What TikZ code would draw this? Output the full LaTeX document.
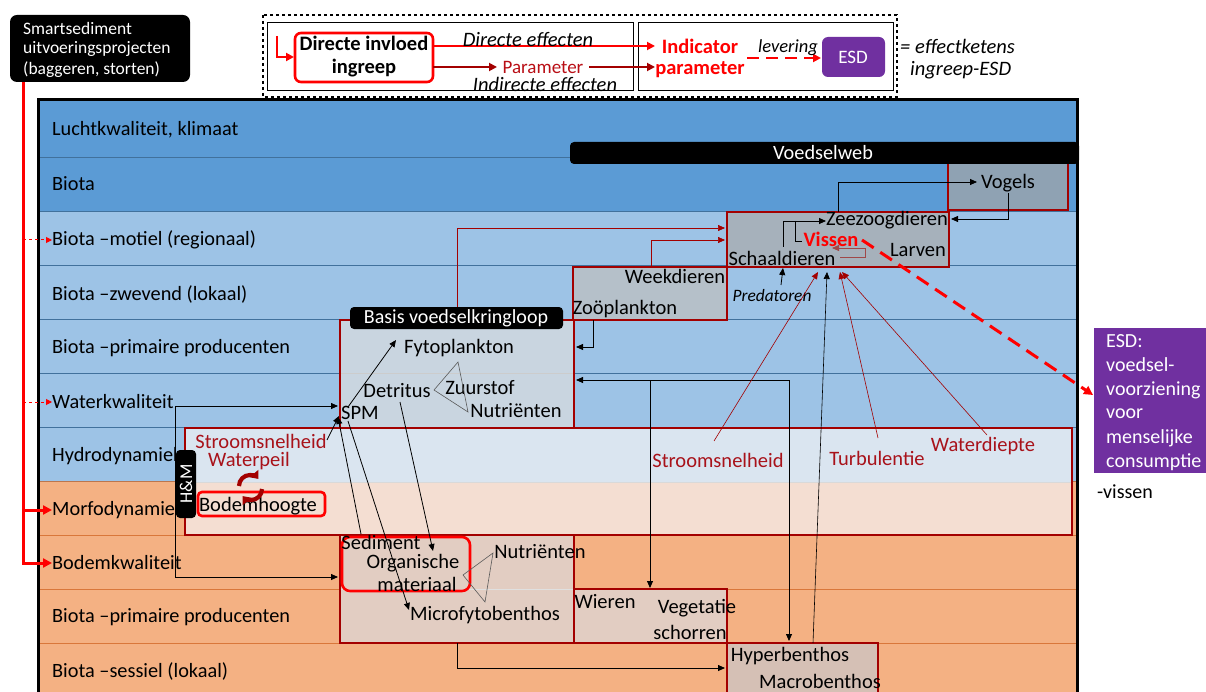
\documentclass[tikz,border=0pt]{standalone}
\usepackage{fontspec}
\setmainfont{Carlito}
\usetikzlibrary{arrows.meta}
\definecolor{rowdark}{HTML}{5B9BD5}
\definecolor{rowlight}{HTML}{9DC3E6}
\definecolor{roworange}{HTML}{F4B183}
\definecolor{sepblue}{HTML}{41719C}
\definecolor{seporange}{HTML}{D9773A}
\definecolor{dkred}{HTML}{A30000}
\definecolor{txtred}{HTML}{A8121A}
\definecolor{brred}{HTML}{FF0000}
\definecolor{purp}{HTML}{7030A0}
\definecolor{hydtop}{HTML}{DAE5F0}
\definecolor{hydbot}{HTML}{F4DED2}
\definecolor{basisf}{HTML}{C9D5E0}
\definecolor{weekf}{HTML}{B5C0C9}
\definecolor{zeezf}{HTML}{A6B1BB}
\definecolor{vogelf}{HTML}{8FA2B3}
\definecolor{sedf}{HTML}{E2CDC2}
\definecolor{hyperf}{HTML}{D5C0B5}
\definecolor{brownl}{HTML}{A04848}
\tikzset{
 rowlab/.style={anchor=west, font=\fontsize{20.3}{23}\selectfont, inner sep=0pt},
 lab/.style={font=\fontsize{20.5}{23}\selectfont, inner sep=0pt},
 rlab/.style={lab, text=txtred},
 boxline/.style={draw=dkred, line width=2.6pt},
 conn/.style={draw=black, line width=0.8pt, -{Triangle[length=7pt,width=6pt]}},
 rconn/.style={draw=dkred, line width=0.6pt, -{Triangle[length=7pt,width=6pt]}},
 tri/.style={draw=black!65, line width=0.6pt},
 wlab/.style={text=white, inner sep=0pt},
}
\begin{document}
\begin{tikzpicture}[x=1pt,y=-1pt]
\useasboundingbox (0,0) rectangle (1206,692);
\fill[white] (0,0) rectangle (1206,692);

% ---------- row bands ----------
\fill[rowdark] (40,101) rectangle (1076,211);
\fill[rowlight] (40,211) rectangle (1076,481);
\fill[roworange] (40,481) rectangle (1076,692);
\foreach \yy in {157,211,265,319,373,427} \draw[sepblue, line width=0.8pt] (40,\yy) -- (1076,\yy);
\draw[seporange!80!sepblue, line width=0.8pt] (40,481) -- (1076,481);
\foreach \yy in {535,589,643} \draw[seporange, line width=0.8pt] (40,\yy) -- (1076,\yy);
\draw[line width=3pt] (38.5,694) -- (38.5,99.5) -- (1077.5,99.5) -- (1077.5,694);

% ---------- row labels ----------
\node[rowlab] (r1) at (52,130) {Luchtkwaliteit, klimaat};
\node[rowlab] (r2) at (52,184) {Biota};
\node[rowlab] (r3) at (52,240) {Biota –motiel (regionaal)};
\node[rowlab] (r4) at (52,294) {Biota –zwevend (lokaal)};
\node[rowlab] (r5) at (52,348) {Biota –primaire producenten};
\node[rowlab] (r6) at (52,402) {Waterkwaliteit};
\node[rowlab] (r7) at (52,456) {Hydrodynamiek};
\node[rowlab] (r8) at (52,510) {Morfodynamiek};
\node[rowlab] (r9) at (52,563) {Bodemkwaliteit};
\node[rowlab] (r10) at (52,617) {Biota –primaire producenten};
\node[rowlab] (r11) at (52,671) {Biota –sessiel (lokaal)};

% ---------- boxes ----------
\fill[vogelf] (948,160) rectangle (1068,210);
\draw[boxline] (948,160) rectangle (1068,210);
\fill[zeezf] (727,212) rectangle (949,267);
\draw[boxline] (727,212) rectangle (949,267);
\fill[weekf] (573,267) rectangle (727,320);
\draw[boxline] (573,267) rectangle (727,320);
\fill[basisf] (340,320) rectangle (574,428);
\draw[black!20, line width=0.8pt] (340,373) -- (574,373);
\draw[boxline] (340,320) rectangle (574,428);
\fill[hydtop] (185,428) rectangle (1072,482);
\fill[hydbot] (185,482) rectangle (1072,535);
\draw[black!15, line width=1pt] (185,482) -- (1072,482);
\draw[boxline] (185,428) rectangle (1072,535);
\fill[sedf] (340,535) rectangle (574,643);
\draw[black!12, line width=0.8pt] (340,589) -- (574,589);
\draw[boxline] (340,535) rectangle (574,643);
\fill[sedf] (574,589) rectangle (727,643);
\draw[boxline] (574,589) rectangle (727,643);
\fill[hyperf] (727,643) rectangle (878,694);
\draw[boxline] (727,694) -- (727,643) -- (878,643) -- (878,694);

% ---------- black labels ----------
\fill[black, rounded corners=4pt] (570,142) rectangle (1079,164);
\node[wlab, font=\fontsize{20.3}{23}\selectfont] (vw) at (823,153) {Voedselweb};
\fill[black, rounded corners=4pt] (350,307) rectangle (563,329);
\node[wlab, font=\fontsize{20}{23}\selectfont] (bv) at (456,318) {Basis voedselkringloop};
\fill[black, rounded corners=4pt] (176,450) rectangle (196,518);
\node[wlab, font=\fontsize{18}{21}\selectfont, rotate=90] (hm) at (186,484) {H\&M};

% ---------- food web texts ----------
\node[lab] (vogels) at (1008,183) {Vogels};
\node[lab] (zeez) at (887,220) {Zeezoogdieren};
\node[lab, text=brred, font=\fontsize{20.5}{23}\selectfont\bfseries] (vissen) at (831,239) {Vissen};
\node[lab] (schaal) at (782,258) {Schaaldieren};
\node[lab] (larven) at (918,250) {Larven};
\node[lab] (week) at (675,276) {Weekdieren};
\node[lab] (zoo) at (625,309) {Zoöplankton};
\node[lab, font=\fontsize{17.4}{20}\selectfont\itshape] (pred) at (772,296) {Predatoren};
\node[lab] (fyto) at (459,348) {Fytoplankton};
\node[lab] (detr) at (397,391) {Detritus};
\node[lab] (zuur) at (480,388) {Zuurstof};
\node[lab] (nutr1) at (516,411) {Nutriënten};
\node[lab] (spm) at (360,413) {SPM};

% ---------- hydro / morfo ----------
\node[rlab] (str1) at (261,441) {Stroomsnelheid};
\node[rlab] (wpeil) at (249,461) {Waterpeil};
\node[rlab] (str2) at (718,460) {Stroomsnelheid};
\node[rlab] (turb) at (877,458) {Turbulentie};
\node[rlab] (wdiep) at (983,446) {Waterdiepte};
\draw[brred, line width=2.6pt, rounded corners=4pt] (198,492) rectangle (325,516);
\node[lab] (bodem) at (258,506) {Bodemhoogte};
\draw[dkred, line width=4.2pt, -{Triangle[length=7pt,width=11pt]}] (239,486) arc (180:320:11);
\draw[dkred, line width=4.2pt, -{Triangle[length=7pt,width=11pt]}] (262,489) arc (0:140:11);

% ---------- bottom texts ----------
\draw[brred, line width=2.6pt, rounded corners=8pt] (342,537) rectangle (470,591);
\node[lab] (sed) at (381,542) {Sediment};
\node[lab] (organ) at (413,563) {Organische};
\node[lab] (mater) at (417,584) {materiaal};
\node[lab] (nutr2) at (540,552) {Nutriënten};
\node[lab] (micro) at (485,615) {Microfytobenthos};
\node[lab] (wieren) at (605,602) {Wieren};
\node[lab] (veget) at (697,608) {Vegetatie};
\node[lab] (schor) at (690,632) {schorren};
\node[lab] (hyper) at (790,656) {Hyperbenthos};
\node[lab] (macro) at (820,681) {Macrobenthos};

% ---------- triangles ----------
\draw[tri] (458,362) -- (434,390) -- (468,412) -- cycle;
\draw[tri] (493,553) -- (463,575) -- (485,602) -- cycle;

% ---------- black connectors ----------
\coordinate (wkj) at (175,406);
\draw[conn] (wkj) -- (338,406);
\draw[conn] (wkj) -- (175,577) -- (338,577);
\draw[conn] (348,407) -- (396,340);
\draw[conn] (327,440) -- (339,416);
\draw[conn] (361,534) -- (338,417);
\draw[conn] (348,421) -- (409,610);
\draw[conn] (400,402) -- (433,551);
\draw[conn] (593,320) -- (593,347) -- (576,347);
\coordinate (tj) at (650,380);
\draw[conn] (tj) -- (576,380);
\draw[conn] (tj) -- (650,588);
\draw[conn] (tj) -- (789,380) -- (789,641);
\draw[conn] (457,643) -- (457,668) -- (725,668);
\draw[conn, line width=0.6pt] (813,643) -- (827,272);
\draw[conn] (781,285) -- (783,268);
\draw[conn] (838,212) -- (838,182) -- (977,182);
\draw[conn] (1008,193) -- (1008,219) -- (951,219);
\draw[conn] (783,247) -- (783,221) -- (826,221);
\draw[black, line width=0.8pt] (795,221) -- (795,241) -- (802,241);
\draw[draw=brownl, line width=0.8pt, -{Triangle[length=7pt,width=6pt]}] (840,257) -- (865,257) -- (865,248) -- (832,248);

% ---------- dark red connectors ----------
\draw[rconn] (457,307) -- (457,228) -- (725,228);
\draw[rconn] (651,267) -- (651,240) -- (725,240);
\draw[rconn] (714,441) -- (818,272);
\draw[rconn] (878,438) -- (840,272);
\draw[rconn] (987,435) -- (842,272);

% ---------- top-left source box and red lines ----------
\fill[black, rounded corners=7pt] (10,15) rectangle (190,82);
\node[wlab, anchor=west, font=\fontsize{17.5}{20}\selectfont] (s1) at (23,28) {Smartsediment};
\node[wlab, anchor=west, font=\fontsize{17.5}{20}\selectfont] (s2) at (23,49) {uitvoeringsprojecten};
\node[wlab, anchor=west, font=\fontsize{17.5}{20}\selectfont] (s3) at (23,70) {(baggeren, storten)};
\draw[brred, line width=3pt, -{Triangle[length=9pt,width=9pt]}] (23,82) -- (23,563) -- (r9.west);
\draw[brred, line width=3pt, -{Triangle[length=9pt,width=9pt]}] (23,510) -- (r8.west);
\draw[brred, line width=1pt, dashed, -{Triangle[length=6pt,width=6pt]}] (23,240) -- (r3.west);
\draw[brred, line width=1pt, dashed, -{Triangle[length=6pt,width=6pt]}] (23,402) -- (r6.west);

% ---------- ESD right ----------
\fill[purp] (1094,328) rectangle (1206,473);
\foreach \t/\yy/\nm in {ESD:/341/e1, voedsel-/365/e2, voorziening/390/e3, voor/414/e4, menselijke/438/e5, consumptie/462/e6}
  \node[wlab, anchor=west, font=\fontsize{20}{23}\selectfont] (\nm) at (1106,\yy) {\t};
\node[lab, anchor=west, font=\fontsize{20}{23}\selectfont] (viss2) at (1097,492) {-vissen};
\draw[brred, line width=3pt, dash pattern=on 14pt off 8pt, -{Triangle[length=9pt,width=9pt]}] (862,240) -- (1093,395);

% ---------- legend ----------
\draw[black, line width=1.2pt, dashed] (263,15) rectangle (897,97);
\draw[black, line width=0.8pt] (267,22) rectangle (633,90);
\draw[black, line width=0.8pt] (638,22) rectangle (893,90);
\draw[brred, line width=2.6pt, rounded corners=6pt] (295,33) rectangle (433,82);
\node[lab, font=\fontsize{20.5}{23}\selectfont\bfseries, align=center] (dii) at (364,57) {Directe invloed\\ingreep};
\draw[brred, line width=2.6pt, -{Triangle[length=8pt,width=8pt]}] (277,36) -- (277,57) -- (294,57);
\draw[brred, line width=1.8pt, -{Triangle[length=8pt,width=8pt]}] (433,46) -- (655,46);
\node[lab, font=\fontsize{20.5}{23}\selectfont\itshape] (de) at (528,40) {Directe effecten};
\draw[dkred, line width=1.8pt, -{Triangle[length=8pt,width=8pt]}] (433,67) -- (497,67);
\node[lab, text=txtred!80!red, font=\fontsize{19}{22}\selectfont] (par) at (543,67) {Parameter};
\draw[dkred, line width=1.8pt, -{Triangle[length=8pt,width=8pt]}] (589,67) -- (655,67);
\node[lab, font=\fontsize{20.5}{23}\selectfont\itshape] (ie) at (545,84) {Indirecte effecten};
\node[lab, text=brred, font=\fontsize{20.5}{23}\selectfont\bfseries] (ind) at (700,46) {Indicator};
\node[lab, text=brred, font=\fontsize{20.5}{23}\selectfont\bfseries] (indp) at (700,70) {parameter};
\fill[purp, rounded corners=6pt] (822,37) rectangle (885,77);
\node[wlab, font=\fontsize{19}{22}\selectfont] (esd) at (853,57) {ESD};
\draw[brred, line width=2.4pt, dash pattern=on 12pt off 7pt, -{Triangle[length=8pt,width=8pt]}] (747,58) -- (821,58);
\node[lab, font=\fontsize{18.5}{21}\selectfont\itshape] (lev) at (788,48) {levering};
\node[lab, anchor=west, font=\fontsize{20.5}{23}\selectfont\itshape] (eq1) at (900,46) {= effectketens};
\node[lab, anchor=west, font=\fontsize{20.5}{23}\selectfont\itshape] (eq2) at (910,70) {ingreep-ESD};
\end{tikzpicture}
\end{document}
